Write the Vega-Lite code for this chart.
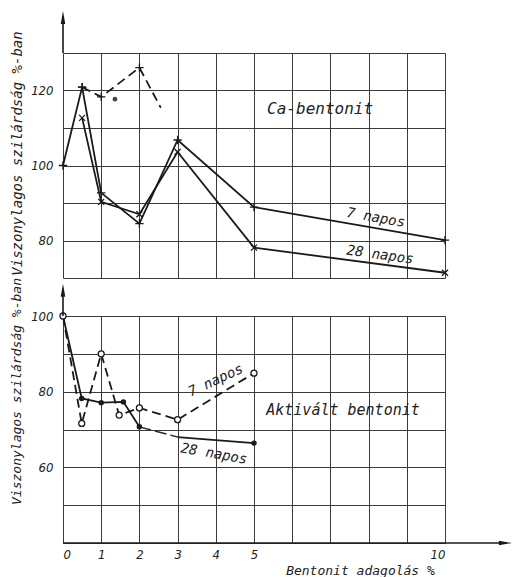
{
  "$schema": "https://vega.github.io/schema/vega-lite/v6.json",
  "background": "white",
  "padding": {"left": 10, "top": 10, "right": 0, "bottom": 0},
  "bounds": "flush",
  "spacing": 38,
  "datasets": {
    "ca": [
      {"kor": "7 napos", "x": 0, "y": 100},
      {"kor": "7 napos", "x": 0.5, "y": 120.9},
      {"kor": "7 napos", "x": 1, "y": 92.7},
      {"kor": "7 napos", "x": 2, "y": 84.5},
      {"kor": "7 napos", "x": 3, "y": 106.8},
      {"kor": "7 napos", "x": 5, "y": 88.9},
      {"kor": "7 napos", "x": 10, "y": 80.1},
      {"kor": "28 napos", "x": 0.5, "y": 112.7},
      {"kor": "28 napos", "x": 1, "y": 90.3},
      {"kor": "28 napos", "x": 2, "y": 87.0},
      {"kor": "28 napos", "x": 3, "y": 103.6},
      {"kor": "28 napos", "x": 5, "y": 78.1},
      {"kor": "28 napos", "x": 10, "y": 71.4},
      {"kor": "szaggatott", "x": 0.5, "y": 120.9},
      {"kor": "szaggatott", "x": 1, "y": 118.3},
      {"kor": "szaggatott", "x": 2, "y": 126.1},
      {"kor": "szaggatott", "x": 2.56, "y": 115.4}
    ],
    "akt": [
      {"kor": "7 napos", "x": 0, "y": 100},
      {"kor": "7 napos", "x": 0.49, "y": 71.6},
      {"kor": "7 napos", "x": 1, "y": 90.0},
      {"kor": "7 napos", "x": 1.47, "y": 73.8},
      {"kor": "7 napos", "x": 2, "y": 75.7},
      {"kor": "7 napos", "x": 3, "y": 72.6},
      {"kor": "7 napos", "x": 5, "y": 84.9},
      {"kor": "28 napos", "x": 0, "y": 100},
      {"kor": "28 napos", "x": 0.49, "y": 78.2},
      {"kor": "28 napos", "x": 1, "y": 77.1},
      {"kor": "28 napos", "x": 1.58, "y": 77.3},
      {"kor": "28 napos", "x": 2, "y": 70.7},
      {"kor": "28 napos", "x": 3, "y": 68.0},
      {"kor": "28 napos", "x": 5, "y": 66.4}
    ]
  },
  "resolve": {"scale": {"y": "independent"}},
  "vconcat": [
    {
      "width": 382,
      "height": 225,
      "data": {"name": "ca"},
      "encoding": {
        "x": {
          "field": "x", "type": "quantitative",
          "scale": {"domain": [0, 10], "nice": false, "zero": false},
          "axis": {"values": [0, 1, 2, 3, 4, 5, 6, 7, 8, 9, 10], "labels": false, "title": null, "grid": true}
        },
        "y": {
          "field": "y", "type": "quantitative",
          "scale": {"domain": [70, 130], "nice": false, "zero": false},
          "axis": {
            "values": [70, 80, 90, 100, 110, 120, 130],
            "labelExpr": "datum.value == 80 || datum.value == 100 || datum.value == 120 ? datum.label : ''",
            "labelPadding": 10,
            "grid": true,
            "title": "Viszonylagos szilárdság %-ban",
            "titleFontSize": 14,
            "titlePadding": 6,
            "titleY": 100
          }
        }
      },
      "layer": [
        {
          "transform": [{"filter": "datum.kor != 'szaggatott'"}],
          "mark": {"type": "line", "color": "#1a1a1a", "strokeWidth": 1.8},
          "encoding": {"detail": {"field": "kor"}}
        },
        {
          "transform": [{"filter": "datum.kor == 'szaggatott'"}],
          "mark": {"type": "line", "color": "#1a1a1a", "strokeWidth": 1.8, "strokeDash": [9, 5]}
        },
        {
          "transform": [{"filter": "datum.kor == '7 napos' || (datum.kor == 'szaggatott' && datum.x <= 2)"}],
          "mark": {"type": "point", "shape": "M-1,0L1,0M0,-1L0,1", "size": 70, "filled": false, "stroke": "#1a1a1a", "strokeWidth": 1.3, "opacity": 1}
        },
        {
          "transform": [{"filter": "datum.kor == '28 napos'"}],
          "mark": {"type": "point", "shape": "M-1,-1L1,1M-1,1L1,-1", "size": 36, "filled": false, "stroke": "#1a1a1a", "strokeWidth": 1.3, "opacity": 1}
        },
        {
          "data": {"values": [{"x": 1.36, "y": 117.7}]},
          "mark": {"type": "circle", "size": 22, "color": "#444", "opacity": 1}
        },
        {
          "data": {"values": [{"x": 0, "y": 130, "y2": 139.5}]},
          "mark": {"type": "rule", "color": "#1a1a1a", "strokeWidth": 1.6},
          "encoding": {"y2": {"field": "y2"}}
        },
        {
          "data": {"values": [{"x": 0, "y": 139.5}]},
          "mark": {"type": "point", "shape": "M0,-1L0.35,1L-0.35,1Z", "size": 169, "filled": true, "color": "#1a1a1a", "opacity": 1}
        },
        {
          "data": {"values": [{"t": "Ca-bentonit", "x": 6.73, "y": 115.1}]},
          "mark": {"type": "text", "font": "DejaVu Sans Mono", "fontSize": 16, "fontStyle": "italic", "color": "#222"},
          "encoding": {"text": {"field": "t"}}
        },
        {
          "data": {"values": [{"t": "7 napos", "x": 8.19, "y": 86.0}]},
          "mark": {"type": "text", "font": "DejaVu Sans Mono", "fontSize": 14, "fontStyle": "italic", "color": "#222", "angle": 10},
          "encoding": {"text": {"field": "t"}}
        },
        {
          "data": {"values": [{"t": "28 napos", "x": 8.3, "y": 76.1}]},
          "mark": {"type": "text", "font": "DejaVu Sans Mono", "fontSize": 14, "fontStyle": "italic", "color": "#222", "angle": 8},
          "encoding": {"text": {"field": "t"}}
        }
      ]
    },
    {
      "width": 382,
      "height": 227,
      "data": {"name": "akt"},
      "encoding": {
        "x": {
          "field": "x", "type": "quantitative",
          "scale": {"domain": [0, 10], "nice": false, "zero": false},
          "axis": {
            "values": [0, 1, 2, 3, 4, 5, 6, 7, 8, 9, 10],
            "labelExpr": "datum.value <= 5 || datum.value == 10 ? datum.label : ''",
            "labelPadding": 5,
            "grid": true,
            "title": "Bentonit adagolás %",
            "titleFontSize": 13,
            "titleX": 297,
            "titleY": 21,
            "titleBaseline": "top"
          }
        },
        "y": {
          "field": "y", "type": "quantitative",
          "scale": {"domain": [40, 100], "nice": false, "zero": false},
          "axis": {
            "values": [40, 50, 60, 70, 80, 90, 100],
            "labelExpr": "datum.value == 60 || datum.value == 80 || datum.value == 100 ? datum.label : ''",
            "labelPadding": 10,
            "grid": true,
            "title": "Viszonylagos szilárdság %-ban",
            "titleFontSize": 13,
            "titlePadding": 7,
            "titleY": 75
          }
        }
      },
      "layer": [
        {
          "transform": [{"filter": "datum.kor == '28 napos' && (datum.x <= 2)"}],
          "mark": {"type": "line", "color": "#1a1a1a", "strokeWidth": 1.8}
        },
        {
          "transform": [{"filter": "datum.kor == '28 napos' && datum.x >= 2 && datum.x <= 3"}],
          "mark": {"type": "line", "color": "#2a2a2a", "strokeWidth": 1.5, "strokeDash": [12, 4]}
        },
        {
          "transform": [{"filter": "datum.kor == '28 napos' && datum.x >= 3"}],
          "mark": {"type": "line", "color": "#1a1a1a", "strokeWidth": 1.8}
        },
        {
          "transform": [{"filter": "datum.kor == '7 napos'"}],
          "mark": {"type": "line", "color": "#1a1a1a", "strokeWidth": 1.8, "strokeDash": [9, 5]}
        },
        {
          "transform": [{"filter": "datum.kor == '28 napos' && datum.x > 0 && datum.x != 3"}],
          "mark": {"type": "circle", "size": 30, "color": "#1a1a1a", "opacity": 1}
        },
        {
          "transform": [{"filter": "datum.kor == '7 napos'"}],
          "mark": {"type": "point", "shape": "circle", "size": 36, "filled": true, "fill": "white", "stroke": "#1a1a1a", "strokeWidth": 1.3, "opacity": 1}
        },
        {
          "data": {"values": [{"x": 0, "y": 100, "y2": 106.8}]},
          "mark": {"type": "rule", "color": "#1a1a1a", "strokeWidth": 1.6},
          "encoding": {"y2": {"field": "y2"}}
        },
        {
          "data": {"values": [{"x": 0, "y": 106.8}]},
          "mark": {"type": "point", "shape": "M0,-1L0.35,1L-0.35,1Z", "size": 169, "filled": true, "color": "#1a1a1a", "opacity": 1}
        },
        {
          "data": {"values": [{"x": 0, "x2": 11.58, "y": 40}]},
          "mark": {"type": "rule", "color": "#1a1a1a", "strokeWidth": 1.6},
          "encoding": {"x2": {"field": "x2"}}
        },
        {
          "data": {"values": [{"x": 11.58, "y": 40}]},
          "mark": {"type": "point", "shape": "M1,0L-1,0.35L-1,-0.35Z", "size": 169, "filled": true, "color": "#1a1a1a", "opacity": 1}
        },
        {
          "data": {"values": [{"t": "Aktivált bentonit", "x": 7.33, "y": 75.2}]},
          "mark": {"type": "text", "font": "DejaVu Sans Mono", "fontSize": 15, "fontStyle": "italic", "color": "#222"},
          "encoding": {"text": {"field": "t"}}
        },
        {
          "data": {"values": [{"t": "7 napos", "x": 4.0, "y": 82.9}]},
          "mark": {"type": "text", "font": "DejaVu Sans Mono", "fontSize": 14, "fontStyle": "italic", "color": "#222", "angle": -25},
          "encoding": {"text": {"field": "t"}}
        },
        {
          "data": {"values": [{"t": "28 napos", "x": 3.95, "y": 63.5}]},
          "mark": {"type": "text", "font": "DejaVu Sans Mono", "fontSize": 14, "fontStyle": "italic", "color": "#222", "angle": 10},
          "encoding": {"text": {"field": "t"}}
        }
      ]
    }
  ],
  "config": {
    "view": {"stroke": null},
    "font": "DejaVu Sans",
    "axis": {
      "domain": false,
      "ticks": false,
      "gridColor": "#3a3a3a",
      "gridWidth": 1,
      "gridOpacity": 1,
      "labelFont": "DejaVu Sans Condensed",
      "labelFontStyle": "italic",
      "labelFontSize": 13,
      "labelColor": "#222",
      "titleFont": "DejaVu Sans Mono",
      "titleFontStyle": "italic",
      "titleFontWeight": "normal",
      "titleColor": "#222"
    }
  }
}
